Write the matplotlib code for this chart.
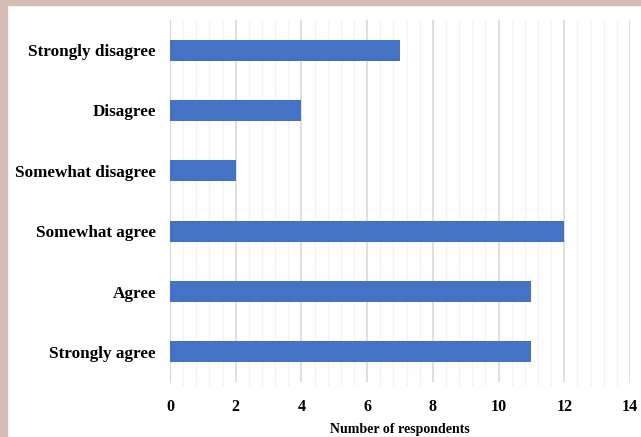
import matplotlib.pyplot as plt
from matplotlib.ticker import MultipleLocator
from matplotlib.patches import Rectangle

categories = ['Strongly disagree', 'Disagree', 'Somewhat disagree',
              'Somewhat agree', 'Agree', 'Strongly agree']
counts = [7, 4, 2, 12, 11, 11]

plt.rcParams['font.family'] = 'Liberation Serif'
plt.rcParams['font.weight'] = 'bold'

fig = plt.figure(figsize=(6.41, 4.37), dpi=100)
fig.patch.set_facecolor('white')
# border strips
fig.patches.append(Rectangle((0, 0), 7 / 641, 1, transform=fig.transFigure,
                             color='#d5bdb6', zorder=-1))
fig.patches.append(Rectangle((0, 1 - 5 / 437), 1, 5 / 437, transform=fig.transFigure,
                             color='#d5bdb6', zorder=-1))

ax = fig.add_axes([170 / 641, 1 - 382 / 437, 460 / 641, 362 / 437])
y = list(range(len(categories)))
ax.barh(y, counts, height=0.35, color='#4472c4', zorder=3)
ax.set_ylim(len(categories) - 0.5, -0.5)
ax.set_xlim(0, 14)
ax.set_yticks(y)
ax.set_yticklabels(categories, fontsize=12.3)
ax.xaxis.set_major_locator(MultipleLocator(2))
ax.xaxis.set_minor_locator(MultipleLocator(0.4))
ax.tick_params(axis='x', which='major', labelsize=11.5, length=0, pad=12)
ax.tick_params(axis='x', which='minor', length=2, color='#e6e6e6')
ax.tick_params(axis='y', length=0, pad=10)
ax.grid(axis='x', which='major', color='#d9d9d9', linewidth=1.2, zorder=0)
ax.grid(axis='x', which='minor', color='#f4f4f4', linewidth=1.0, zorder=0)
for s in ['top', 'right', 'bottom']:
    ax.spines[s].set_visible(False)
ax.spines['left'].set_color('#d9d9d9')
ax.set_xlabel('Number of respondents', fontsize=10, fontweight='bold', labelpad=6)

plt.savefig('out.png', dpi=100)
